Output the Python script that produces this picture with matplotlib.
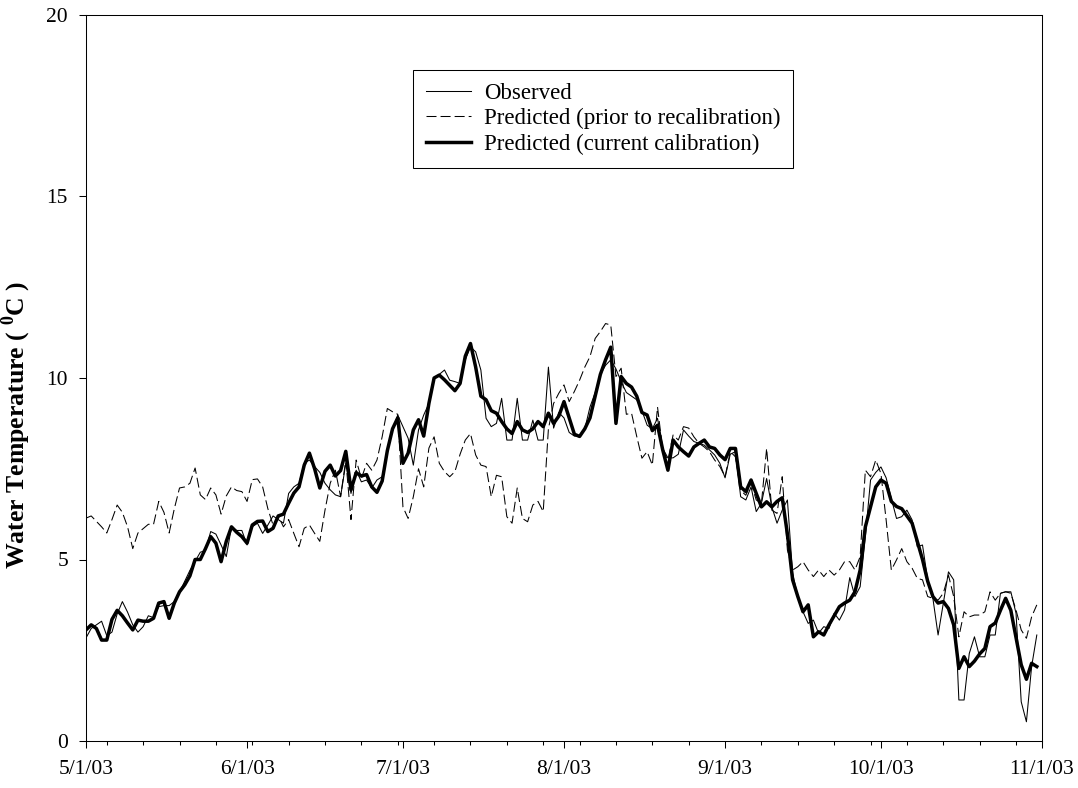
import numpy as np
import pandas as pd
import matplotlib
matplotlib.use('Agg')
import matplotlib.pyplot as plt
import matplotlib.dates as mdates

# daily water temperature (deg C), 5/1/03 .. 10/31/03
start_date = '2003-05-01'
end_date = '2003-11-01'

observed = [2.84, 3.1, 3.2, 3.3, 2.9, 3.0, 3.5, 3.84, 3.55, 3.2,
            3.0, 3.15, 3.45, 3.4, 3.7, 3.73, 3.73, 3.84, 4.1, 4.4,
            4.7, 4.95, 5.2, 5.25, 5.77, 5.7, 5.4, 5.08, 5.9, 5.8,
            5.8, 5.4, 5.9, 6.0, 5.72, 5.95, 6.2, 6.1, 6.0, 6.82,
            7.0, 7.1, 7.65, 7.74, 7.56, 7.4, 7.1, 6.92, 6.78, 6.73,
            7.65, 6.82, 7.46, 7.14, 7.19, 6.97, 7.19, 7.28, 7.97, 8.56,
            8.98, 8.66, 8.34, 7.6, 8.57, 8.98, 9.3, 9.99, 10.1, 10.22,
            9.94, 9.9, 9.85, 10.5, 10.86, 10.72, 10.22, 8.89, 8.66, 8.75,
            9.44, 8.29, 8.29, 9.44, 8.29, 8.29, 8.84, 8.29, 8.29, 10.3,
            8.62, 9.05, 8.9, 8.5, 8.4, 8.4, 8.6, 9.2, 9.6, 10.1,
            10.35, 10.5, 10.25, 9.9, 9.6, 9.5, 9.4, 9.1, 8.7, 8.6,
            8.89, 8.06, 7.8, 7.8, 7.9, 8.57, 8.4, 8.25, 8.2, 8.15,
            8.02, 7.88, 7.65, 7.25, 7.9, 7.97, 6.73, 6.64, 7.0, 6.32,
            6.55, 7.23, 6.45, 6.0, 6.36, 6.64, 4.62, 3.98, 3.56, 3.24,
            3.33, 2.97, 3.15, 3.1, 3.52, 3.33, 3.61, 4.5, 3.98, 4.25,
            5.63, 7.19, 7.4, 7.55, 7.25, 6.68, 6.13, 6.18, 6.36, 6.09,
            5.35, 5.4, 4.44, 3.93, 2.92, 3.79, 4.66, 4.44, 1.13, 1.13,
            2.41, 2.87, 2.32, 2.32, 2.92, 2.92, 4.07, 4.11, 4.11, 3.52,
            1.08, 0.53, 2.05, 2.92]

prior = [6.14, 6.2, 6.05, 5.9, 5.73, 6.1, 6.5, 6.3, 5.9, 5.3,
         5.73, 5.85, 5.97, 5.97, 6.6, 6.3, 5.73, 6.4, 6.97, 7.0,
         7.1, 7.52, 6.78, 6.65, 6.97, 6.78, 6.25, 6.75, 7.0, 6.9,
         6.87, 6.6, 7.2, 7.22, 7.0, 6.4, 5.95, 6.2, 5.9, 6.1,
         5.72, 5.35, 5.86, 5.95, 5.72, 5.5, 6.36, 7.1, 7.46, 6.73,
         7.74, 6.1, 7.74, 7.23, 7.65, 7.46, 7.74, 8.38, 9.16, 9.07,
         9.0, 6.45, 6.13, 6.73, 7.5, 7.0, 8.07, 8.38, 7.65, 7.42,
         7.28, 7.42, 7.9, 8.29, 8.47, 7.88, 7.6, 7.56, 6.73, 7.32,
         7.28, 6.18, 6.0, 6.97, 6.13, 6.04, 6.5, 6.6, 6.32, 8.6,
         9.3, 9.58, 9.81, 9.35, 9.63, 9.94, 10.3, 10.59, 11.09, 11.28,
         11.5, 11.46, 10.04, 10.27, 9.0, 9.03, 8.39, 7.79, 7.97, 7.6,
         9.2, 8.02, 7.74, 8.43, 8.29, 8.66, 8.62, 8.38, 8.2, 8.1,
         7.97, 7.74, 7.56, 7.28, 7.97, 7.83, 6.9, 6.77, 7.1, 6.64,
         6.55, 8.06, 6.36, 6.27, 7.28, 5.26, 4.71, 4.8, 4.94, 4.71,
         4.53, 4.71, 4.53, 4.71, 4.57, 4.71, 4.94, 4.94, 4.71, 5.08,
         7.46, 7.28, 7.74, 7.37, 6.09, 4.71, 4.99, 5.3, 4.94, 4.76,
         4.48, 4.44, 3.98, 3.93, 3.88, 4.07, 4.57, 3.98, 2.87, 3.56,
         3.42, 3.47, 3.47, 3.56, 4.11, 3.88, 4.07, 4.11, 4.07, 3.61,
         3.06, 2.83, 3.42, 3.75]

current = [3.06, 3.2, 3.1, 2.78, 2.78, 3.35, 3.6, 3.45, 3.25, 3.06,
           3.33, 3.3, 3.3, 3.38, 3.8, 3.84, 3.38, 3.8, 4.11, 4.3,
           4.55, 5.0, 5.0, 5.3, 5.63, 5.45, 4.94, 5.5, 5.9, 5.75,
           5.63, 5.45, 5.95, 6.05, 6.06, 5.77, 5.86, 6.2, 6.25, 6.55,
           6.83, 7.0, 7.6, 7.93, 7.5, 6.97, 7.43, 7.6, 7.3, 7.45,
           7.98, 6.92, 7.39, 7.3, 7.34, 7.0, 6.85, 7.16, 8.0, 8.6,
           8.9, 7.65, 7.93, 8.57, 8.85, 8.4, 9.3, 10.0, 10.08, 9.95,
           9.8, 9.65, 9.85, 10.6, 10.95, 10.3, 9.5, 9.4, 9.1, 9.03,
           8.8, 8.6, 8.47, 8.8, 8.57, 8.5, 8.6, 8.8, 8.66, 9.03,
           8.75, 8.95, 9.35, 8.9, 8.45, 8.39, 8.6, 8.9, 9.5, 10.1,
           10.5, 10.85, 8.75, 10.04, 9.85, 9.75, 9.5, 9.05, 8.98, 8.55,
           8.7, 8.02, 7.46, 8.29, 8.1, 7.97, 7.85, 8.1, 8.2, 8.29,
           8.1, 8.06, 7.88, 7.75, 8.06, 8.06, 7.0, 6.87, 7.19, 6.82,
           6.45, 6.59, 6.45, 6.6, 6.7, 5.7, 4.44, 3.98, 3.56, 3.75,
           2.87, 3.01, 2.92, 3.2, 3.45, 3.7, 3.8, 3.88, 4.11, 4.71,
           5.9, 6.45, 7.0, 7.19, 7.1, 6.6, 6.46, 6.4, 6.2, 6.0,
           5.5, 5.0, 4.4, 3.98, 3.8, 3.84, 3.65, 3.2, 2.0, 2.32,
           2.05, 2.2, 2.4, 2.55, 3.15, 3.25, 3.6, 3.93, 3.6, 2.85,
           2.1, 1.7, 2.14, 2.05]

series_labels = ['Observed', 'Predicted (prior to recalibration)', 'Predicted (current calibration)']
y_ticks = [0, 5, 10, 15, 20]

plt.rcParams['font.family'] = ['Liberation Serif', 'DejaVu Serif']
plt.rcParams['mathtext.fontset'] = 'custom'
plt.rcParams['mathtext.rm'] = 'Liberation Serif'
plt.rcParams['mathtext.bf'] = 'Liberation Serif:bold'

days = pd.date_range(start_date, periods=len(observed), freq='D')

fig = plt.figure(figsize=(10.78, 7.88), dpi=100)
ax = fig.add_axes([86/1078, 47/788, 956/1078, 726/788])

ax.plot(days, observed, 'k-', linewidth=0.75, label=series_labels[0])
ax.plot(days, prior, 'k--', linewidth=0.75, dashes=(9.6, 3.9), label=series_labels[1])
ax.plot(days, current, 'k-', linewidth=2.5, label=series_labels[2])

ax.set_xlim(pd.Timestamp(start_date), pd.Timestamp(end_date))
ax.set_ylim(0, 20)
ax.set_yticks(y_ticks)

def date_label(v, pos):
    d = mdates.num2date(v)
    return '%d/%d/%s' % (d.month, d.day, d.strftime('%y'))

ax.xaxis.set_major_locator(mdates.MonthLocator())
ax.xaxis.set_minor_locator(mdates.WeekdayLocator(byweekday=mdates.MO))
ax.xaxis.set_major_formatter(plt.FuncFormatter(date_label))

ax.tick_params(axis='both', which='major', direction='out', length=5, width=0.75, labelsize=15.5)
ax.tick_params(axis='x', which='major', pad=9)
ax.tick_params(axis='y', which='major', pad=8)
ax.tick_params(axis='x', which='minor', direction='out', length=3, width=0.75)
for sp in ax.spines.values():
    sp.set_linewidth(0.75)

ax.set_ylabel('Water Temperature ( $^{\\mathbf{0}}$C )', fontsize=18.5, fontweight='bold')
ax.yaxis.set_label_coords(-0.055, 0.435)

leg = ax.legend(loc='upper left', bbox_to_anchor=(413/1078, 1 - 70/788), bbox_transform=fig.transFigure,
                fontsize=16.5, frameon=True, fancybox=False, edgecolor='k', framealpha=1,
                handlelength=2.0, handletextpad=0.55, borderpad=0.55, labelspacing=0.2, borderaxespad=0)
leg.get_frame().set_linewidth(0.75)

plt.savefig('out.png', dpi=100)
